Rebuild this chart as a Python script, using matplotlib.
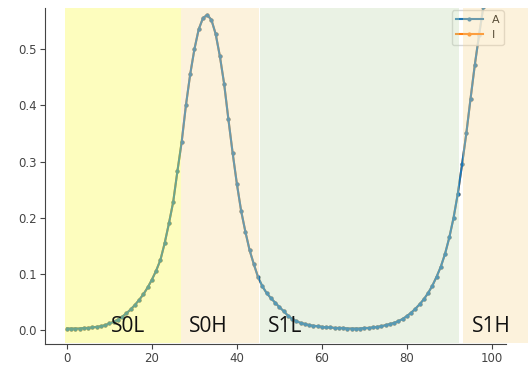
import matplotlib.pyplot as plt

x = list(range(99))
a_vals = [
    0.003, 0.003, 0.003, 0.003, 0.004, 0.004, 0.005, 0.006, 0.007, 0.009,
    0.012, 0.015, 0.019, 0.024, 0.030, 0.037, 0.045, 0.054, 0.064, 0.076,
    0.090, 0.106, 0.125, 0.155, 0.190, 0.228, 0.283, 0.335, 0.400, 0.455,
    0.500, 0.535, 0.555, 0.561, 0.552, 0.527, 0.487, 0.438, 0.375, 0.315,
    0.260, 0.212, 0.175, 0.142, 0.117, 0.094, 0.078, 0.066, 0.057, 0.049,
    0.041, 0.034, 0.026, 0.020, 0.016, 0.013, 0.011, 0.009, 0.008, 0.007,
    0.006, 0.005, 0.005, 0.004, 0.004, 0.004, 0.003, 0.003, 0.003, 0.003,
    0.004, 0.004, 0.005, 0.006, 0.007, 0.009, 0.011, 0.013, 0.016, 0.020,
    0.025, 0.031, 0.038, 0.046, 0.055, 0.066, 0.079, 0.095, 0.113, 0.136,
    0.165, 0.200, 0.243, 0.295, 0.350, 0.412, 0.472, 0.525, 0.575,
]
i_vals = list(a_vals)

# stage bands: (start, end, colour, label, label x)
stages = [
    (-0.5, 26.8, "#fcfc45", "S0L", 14.4),
    (26.8, 45.2, "#f9da9b", "S0H", 33.3),
    (45.5, 92.3, "#c3dab2", "S1L", 51.4),
    (93.3, 108.5, "#f9da9b", "S1H", 99.9),
]

fig = plt.figure(figsize=(5.28, 3.67), dpi=100)
ax = fig.add_axes([0.085, 0.062, 0.873, 0.916])

ax.plot(x, a_vals, marker=".", markersize=4, lw=1.5, color="#1f77b4", label="A", zorder=3)
ax.plot(x, i_vals, marker=".", markersize=4, lw=1.5, color="#ff7f0e", label="I", zorder=2)

ax.set_xlim(-5.2, 103.3)
ax.set_ylim(-0.025, 0.573)
ax.set_xticks([0, 20, 40, 60, 80, 100])
ax.set_yticks([0.0, 0.1, 0.2, 0.3, 0.4, 0.5])
ax.tick_params(labelsize=8.5, colors="#444444", length=3.5, pad=2)
for s in ["top", "right"]:
    ax.spines[s].set_visible(False)
for s in ["left", "bottom"]:
    ax.spines[s].set_color("#444444")

leg = ax.legend(loc="upper right", fontsize=8, borderaxespad=0.2, handlelength=2.4,
                framealpha=0.8, edgecolor="#cccccc")
leg.set_zorder(5)

for x0, x1, col, name, lx in stages:
    ax.axvspan(x0, x1, ymin=0.005, ymax=1.0, color=col, alpha=0.35, lw=0,
               zorder=6, clip_on=False)
    ax.text(lx, -0.003, name, ha="center", va="baseline", fontsize=15,
            family="Open Sans", color="#111111", zorder=7)

fig.savefig("out.png", dpi=100)
